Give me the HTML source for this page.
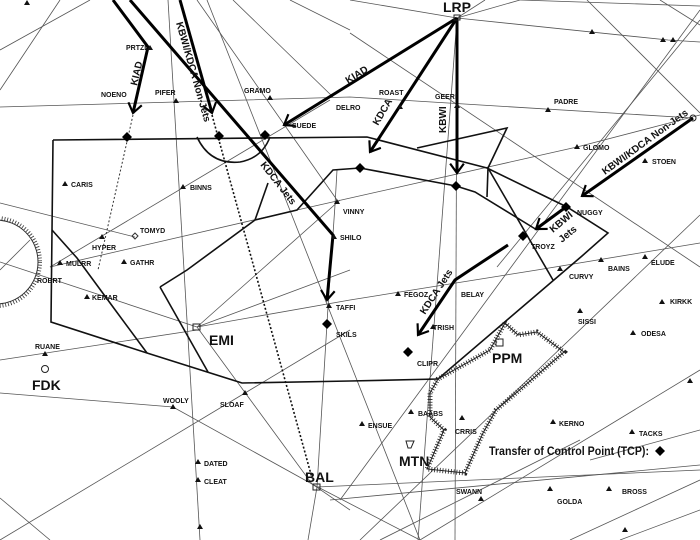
<!DOCTYPE html>
<html><head><meta charset="utf-8"><style>
html,body{margin:0;padding:0;background:#fff;}
svg{display:block;}
text{font-family:"Liberation Sans",sans-serif;fill:#111;}
.s{font-size:7px;font-weight:bold;fill:#333;}
.b{font-size:14px;font-weight:bold;}
.r{font-size:10px;font-weight:bold;}
.t{stroke:#555;stroke-width:0.8;fill:none;}
.k{stroke:#111;stroke-width:1.6;fill:none;}
.a{stroke:#000;stroke-width:3;fill:none;marker-end:url(#v);}
</style></head><body>
<svg width="700" height="540" viewBox="0 0 700 540" xmlns="http://www.w3.org/2000/svg">
<defs>
<marker id="v" markerUnits="userSpaceOnUse" markerWidth="24" markerHeight="24" refX="0" refY="0" viewBox="-14 -12 28 24" orient="auto" overflow="visible">
<path d="M-11,-8 L0,0 L-11,8" stroke="#000" stroke-width="2.5" fill="none"/>
</marker>
<path id="tr" d="M-3,2 L3,2 L0,-3 Z" fill="#111"/>
<path id="dm" d="M0,-5 L5,0 L0,5 L-5,0 Z" fill="#000"/>
</defs>

<g class="t">
<polyline points="0,107 350,97 693,118"/>
<polyline points="350,0 457,18 668,40 700,42"/>
<line x1="457" y1="18" x2="520" y2="0"/>
<line x1="457" y1="18" x2="485" y2="0"/>
<line x1="350" y1="33" x2="700" y2="267"/>
<line x1="700" y1="20" x2="497" y2="267"/>
<line x1="587" y1="0" x2="700" y2="113"/>
<polyline points="50,267 297,210 577,147 700,115"/>
<line x1="0" y1="203" x2="135" y2="237"/>
<line x1="50" y1="267" x2="330" y2="100"/>
<line x1="0" y1="270" x2="30" y2="240"/>
<line x1="0" y1="360" x2="197" y2="330"/>
<line x1="0" y1="262" x2="197" y2="327"/>
<polyline points="197,327 350,300 537,270 700,243"/>
<line x1="197" y1="327" x2="340" y2="200"/>
<line x1="197" y1="327" x2="350" y2="270"/>
<line x1="168" y1="0" x2="200" y2="540"/>
<polyline points="197,327 312,484 350,510"/>
<polyline points="0,393 173,407 312,484 420,540"/>
<polyline points="308,540 317,487 328,307 335,205 337,170"/>
<line x1="317" y1="487" x2="700" y2="470"/>
<line x1="457" y1="18" x2="455" y2="540"/>
<line x1="457" y1="18" x2="418" y2="540"/>
<line x1="197" y1="0" x2="337" y2="200"/>
<line x1="207" y1="0" x2="420" y2="540"/>
<line x1="233" y1="0" x2="333" y2="97"/>
<line x1="290" y1="0" x2="350" y2="30"/>
<line x1="0" y1="50" x2="90" y2="0"/>
<line x1="0" y1="90" x2="60" y2="0"/>
<line x1="0" y1="540" x2="350" y2="330"/>
<polyline points="0,498 50,540"/>
<line x1="340" y1="500" x2="700" y2="10"/>
<line x1="360" y1="540" x2="700" y2="215"/>
<line x1="420" y1="540" x2="700" y2="370"/>
<line x1="380" y1="540" x2="580" y2="440"/>
<line x1="590" y1="460" x2="700" y2="430"/>
<line x1="330" y1="500" x2="700" y2="465"/>
<line x1="570" y1="540" x2="700" y2="480"/>
<line x1="620" y1="540" x2="700" y2="510"/>
<line x1="660" y1="0" x2="700" y2="25"/>
<line x1="520" y1="0" x2="700" y2="6"/>
</g>

<circle cx="-4" cy="262" r="42" fill="none" stroke="#333" stroke-width="1"/>
<circle cx="-4" cy="262" r="44" fill="none" stroke="#333" stroke-width="4" stroke-dasharray="0.8 2"/>

<g class="k">
<polyline points="53,140 367,137 487,168 567,207 608,233 582,256 438,379 350,381 242,383 147,353 51,322 53,140"/>
<polyline points="160,287 187,270 255,220 297,210 333,170 360,168 456,186 475,192 537,230"/>
<line x1="160" y1="287" x2="208" y2="372"/>
<polyline points="52,230 77,258 113,307 147,353"/>
<path d="M197,137 Q210,165 240,162 Q262,158 270,137"/>
<line x1="268" y1="183" x2="255" y2="220"/>
<polyline points="417,148 507,128 488,168 487,197"/>
<line x1="488" y1="168" x2="553" y2="280"/>
</g>

<polygon points="505,323 518,335 537,332 564,352 496,410 483,433 465,473 427,469 444,430 430,417 430,393 438,379 490,350" fill="none" stroke="#222" stroke-width="1"/>
<polygon points="505,323 518,335 537,332 564,352 496,410 483,433 465,473 427,469 444,430 430,417 430,393 438,379 490,350" fill="none" stroke="#222" stroke-width="5" stroke-dasharray="0.8 2"/>
<rect x="496" y="339" width="7" height="7" fill="none" stroke="#222"/>

<line x1="133" y1="115" x2="98" y2="270" stroke="#333" stroke-width="1" stroke-dasharray="2 2"/>
<line x1="212" y1="115" x2="312" y2="478" stroke="#111" stroke-width="1.6" stroke-dasharray="2 2"/>

<polyline class="a" points="113,0 148,47 133,113"/>
<line class="a" x1="180" y1="0" x2="212" y2="113"/>
<polyline class="a" points="130,0 333,235 327,300"/>
<line class="a" x1="457" y1="18" x2="284" y2="125"/>
<line class="a" x1="457" y1="18" x2="370" y2="152"/>
<line class="a" x1="457" y1="18" x2="457" y2="173"/>
<line class="a" x1="693" y1="118" x2="582" y2="196"/>
<line class="a" x1="566" y1="207" x2="536" y2="229"/>
<polyline class="a" points="508,245 473,268 455,280 418,335"/>

<use href="#dm" x="127" y="137"/><use href="#dm" x="219" y="136"/><use href="#dm" x="265" y="135"/>
<use href="#dm" x="360" y="168"/><use href="#dm" x="456" y="186"/><use href="#dm" x="523" y="236"/>
<use href="#dm" x="566" y="207"/><use href="#dm" x="327" y="324"/><use href="#dm" x="408" y="352"/>
<use href="#dm" x="660" y="451"/>

<g>
<use href="#tr" x="150" y="48"/><use href="#tr" x="176" y="101"/><use href="#tr" x="270" y="98"/>
<use href="#tr" x="592" y="32"/><use href="#tr" x="663" y="40"/><use href="#tr" x="673" y="40"/>
<use href="#tr" x="548" y="110"/><use href="#tr" x="577" y="147"/><use href="#tr" x="645" y="161"/>
<use href="#tr" x="65" y="184"/><use href="#tr" x="183" y="187"/><use href="#tr" x="337" y="202"/>
<use href="#tr" x="334" y="237"/><use href="#tr" x="102" y="237"/><use href="#tr" x="124" y="262"/>
<use href="#tr" x="60" y="263"/><use href="#tr" x="87" y="297"/><use href="#tr" x="329" y="306"/>
<use href="#tr" x="398" y="294"/><use href="#tr" x="45" y="354"/><use href="#tr" x="173" y="407"/>
<use href="#tr" x="245" y="393"/><use href="#tr" x="198" y="462"/><use href="#tr" x="198" y="480"/>
<use href="#tr" x="200" y="527"/><use href="#tr" x="362" y="424"/><use href="#tr" x="462" y="418"/>
<use href="#tr" x="553" y="422"/><use href="#tr" x="632" y="432"/><use href="#tr" x="609" y="489"/>
<use href="#tr" x="550" y="489"/><use href="#tr" x="481" y="499"/><use href="#tr" x="580" y="311"/>
<use href="#tr" x="662" y="302"/><use href="#tr" x="633" y="333"/><use href="#tr" x="690" y="381"/>
<use href="#tr" x="601" y="260"/><use href="#tr" x="645" y="257"/><use href="#tr" x="560" y="269"/>
<use href="#tr" x="625" y="530"/><use href="#tr" x="457" y="106"/><use href="#tr" x="400" y="107"/>
<use href="#tr" x="27" y="3"/><use href="#tr" x="411" y="412"/><use href="#tr" x="433" y="327"/>
</g>

<rect x="193" y="324" width="7" height="6" fill="none" stroke="#222"/>
<circle cx="45" cy="369" r="3.5" fill="none" stroke="#222"/>
<rect x="313" y="484" width="7" height="6" fill="none" stroke="#222"/>
<rect x="454" y="15" width="6" height="5" fill="none" stroke="#222"/>
<path d="M406,441 L414,441 L411,448 L408,448 Z" fill="none" stroke="#222"/>
<path d="M135,233 L138,236 L135,239 L132,236 Z" fill="none" stroke="#333"/>
<circle cx="693" cy="118" r="3" fill="none" stroke="#222"/>

<g class="s">
<text x="126" y="50">PRTZL</text><text x="101" y="97">NOENO</text><text x="155" y="95">PIFER</text>
<text x="244" y="93">GRAMO</text><text x="292" y="128">SUEDE</text><text x="336" y="110">DELRO</text>
<text x="379" y="95">ROAST</text><text x="435" y="99">GEERI</text><text x="554" y="104">PADRE</text>
<text x="583" y="150">GLOMO</text><text x="652" y="164">STOEN</text><text x="577" y="215">NUGGY</text>
<text x="531" y="249">TROYZ</text><text x="569" y="279">CURVY</text><text x="608" y="271">BAINS</text>
<text x="651" y="265">ELUDE</text><text x="71" y="187">CARIS</text><text x="190" y="190">BINNS</text>
<text x="343" y="214">VINNY</text><text x="340" y="240">SHILO</text><text x="140" y="233">TOMYD</text>
<text x="92" y="250">HYPER</text><text x="130" y="265">GATHR</text><text x="66" y="266">MULRR</text>
<text x="37" y="283">ROBRT</text><text x="92" y="300">KEMAR</text><text x="336" y="310">TAFFI</text>
<text x="336" y="337">SKILS</text><text x="404" y="297">FEGOZ</text><text x="461" y="297">BELAY</text>
<text x="433" y="330">TRISH</text><text x="417" y="366">CLIPR</text><text x="578" y="324">SISSI</text>
<text x="670" y="304">KIRKK</text><text x="641" y="336">ODESA</text><text x="35" y="349">RUANE</text>
<text x="163" y="403">WOOLY</text><text x="220" y="407">SLOAF</text><text x="368" y="428">ENSUE</text>
<text x="418" y="416">BAABS</text><text x="455" y="434">CRRIS</text><text x="559" y="426">KERNO</text>
<text x="639" y="436">TACKS</text><text x="204" y="466">DATED</text><text x="204" y="484">CLEAT</text>
<text x="456" y="494">SWANN</text><text x="557" y="504">GOLDA</text><text x="622" y="494">BROSS</text>
</g>
<g class="b">
<text x="443" y="12">LRP</text><text x="209" y="345">EMI</text><text x="32" y="390">FDK</text>
<text x="305" y="482">BAL</text><text x="399" y="466">MTN</text><text x="492" y="363">PPM</text>
</g>
<text x="489" y="455" textLength="160" lengthAdjust="spacingAndGlyphs" style="font-size:12px;font-weight:bold">Transfer of Control Point (TCP):</text>
<g class="r">
<text transform="translate(137,86) rotate(-77)">KIAD</text>
<text transform="translate(176,23) rotate(74)">KBWI/KDCA Non-Jets</text>
<text transform="translate(260,165) rotate(52)">KDCA Jets</text>
<text transform="translate(348,84) rotate(-32)">KIAD</text>
<text transform="translate(378,126) rotate(-60)">KDCA</text>
<text transform="translate(446,133) rotate(-90)">KBWI</text>
<text transform="translate(605,175) rotate(-36)">KBWI/KDCA Non-Jets</text>
<text transform="translate(553,233) rotate(-40)">KBWI</text>
<text transform="translate(562,243) rotate(-40)">Jets</text>
<text transform="translate(425,315) rotate(-57)">KDCA Jets</text>
</g>
</svg>
</body></html>
